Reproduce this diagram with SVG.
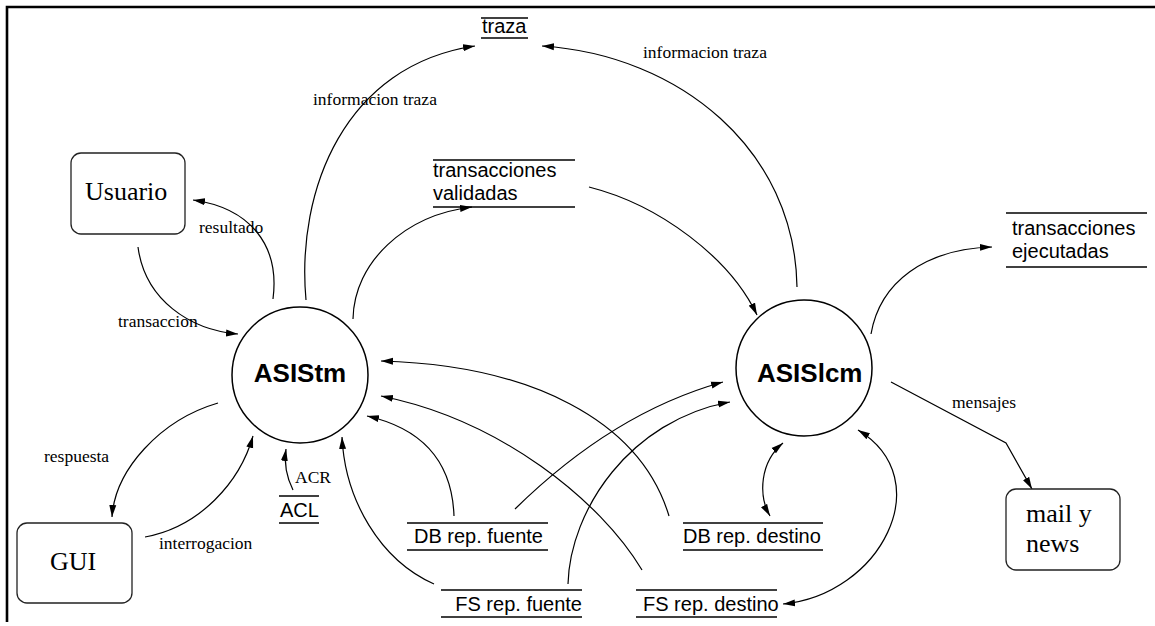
<svg xmlns="http://www.w3.org/2000/svg" width="1155" height="626" viewBox="0 0 1155 626">
  <style>
    .frame { stroke: #000; stroke-width: 2.6; fill: none; }
    .proc { fill: #fff; stroke: #000; stroke-width: 1.5; }
    .ext { fill: #fff; stroke: #222; stroke-width: 1.3; }
    .store { stroke: #000; stroke-width: 1.5; }
    .flow { fill: none; stroke: #000; stroke-width: 1.2; }
    .ptitle { font-family: "Liberation Sans", Arial, sans-serif; font-weight: bold; font-size: 26px; fill: #000; }
    .etitle { font-family: "Liberation Serif", "Times New Roman", serif; font-size: 26px; fill: #000; }
    .stext { font-family: "Liberation Sans", Arial, sans-serif; font-size: 20px; fill: #000; }
    .lbl { font-family: "Liberation Serif", "Times New Roman", serif; font-size: 17.5px; fill: #000; }
  </style>
  <defs>
    <marker id="arrow" markerUnits="userSpaceOnUse" markerWidth="13" markerHeight="8" refX="12" refY="4" orient="auto-start-reverse">
      <path d="M0,0.5 L12,4 L0,7.5 Z" fill="#000"/>
    </marker>
  </defs>

  <rect width="1155" height="626" fill="#fff"/>
  <!-- page frame (top and left edges) -->
  <path class="frame" d="M7,622 L7,7 L1155,7"/>

  <!-- data flows -->
  <g id="connectors">
    <!-- Usuario -> ASIStm : transaccion -->
    <path class="flow" marker-end="url(#arrow)" d="M138,247 C145,300 190,330 238,334"/>
    <!-- ASIStm -> Usuario : resultado -->
    <path class="flow" marker-end="url(#arrow)" d="M273,299 C280,245 250,208 193,200"/>
    <!-- ASIStm -> traza -->
    <path class="flow" marker-end="url(#arrow)" d="M306,300 C296,190 345,65 475,46"/>
    <!-- ASIStm -> transacciones validadas -->
    <path class="flow" marker-end="url(#arrow)" d="M353,319 C354,262 405,215 472,207"/>
    <!-- transacciones validadas -> ASISlcm -->
    <path class="flow" marker-end="url(#arrow)" d="M589,187 C660,205 730,258 757,315"/>
    <!-- ASISlcm -> traza -->
    <path class="flow" marker-end="url(#arrow)" d="M797,287 C795,150 680,55 542,46"/>
    <!-- ASISlcm -> transacciones ejecutadas -->
    <path class="flow" marker-end="url(#arrow)" d="M871,334 C880,282 925,249 992,247"/>
    <!-- ASISlcm -> mail y news : mensajes -->
    <path class="flow" marker-end="url(#arrow)" d="M891,382 L1006,443 L1032,489"/>
    <!-- GUI -> ASIStm : interrogacion -->
    <path class="flow" marker-end="url(#arrow)" d="M145,537 C200,527 240,482 253,436"/>
    <!-- ASIStm -> GUI : respuesta -->
    <path class="flow" marker-end="url(#arrow)" d="M218,403 C160,420 115,470 112,517"/>
    <!-- ACL -> ASIStm : ACR -->
    <path class="flow" marker-end="url(#arrow)" d="M293,490 Q283,470 286,449"/>
    <!-- FS rep. fuente -> ASIStm -->
    <path class="flow" marker-end="url(#arrow)" d="M434,584 C380,560 345,500 342,437"/>
    <!-- DB rep. fuente -> ASIStm -->
    <path class="flow" marker-end="url(#arrow)" d="M454,516 C452,460 420,428 367,416"/>
    <!-- DB rep. destino -> ASIStm -->
    <path class="flow" marker-end="url(#arrow)" d="M669,516 C640,420 530,365 381,361"/>
    <!-- FS rep. destino -> ASIStm -->
    <path class="flow" marker-end="url(#arrow)" d="M642,570 C600,500 500,420 381,396"/>
    <!-- DB rep. fuente -> ASISlcm -->
    <path class="flow" marker-end="url(#arrow)" d="M515,509 C570,455 640,405 723,382"/>
    <!-- FS rep. fuente -> ASISlcm -->
    <path class="flow" marker-end="url(#arrow)" d="M568,584 C570,510 630,420 730,402"/>
    <!-- DB rep. destino <-> ASISlcm -->
    <path class="flow" marker-start="url(#arrow)" marker-end="url(#arrow)" d="M770,516 C758,495 760,462 783,443"/>
    <!-- FS rep. destino <-> ASISlcm -->
    <path class="flow" marker-start="url(#arrow)" marker-end="url(#arrow)" d="M783,604 C880,595 940,480 858,430"/>

    <!-- flow labels -->
    <text class="lbl" x="313" y="105">informacion traza</text>
    <text class="lbl" x="643" y="58">informacion traza</text>
    <text class="lbl" x="199" y="233">resultado</text>
    <text class="lbl" x="118" y="327">transaccion</text>
    <text class="lbl" x="44" y="462">respuesta</text>
    <text class="lbl" x="159" y="549">interrogacion</text>
    <text class="lbl" x="295" y="483">ACR</text>
    <text class="lbl" x="952" y="408">mensajes</text>
  </g>

  <!-- processes -->
  <g id="asistm">
    <circle class="proc" cx="300" cy="375" r="68"/>
    <text class="ptitle" x="300" y="382" text-anchor="middle">ASIStm</text>
  </g>
  <g id="asislcm">
    <circle class="proc" cx="804" cy="368" r="68"/>
    <text class="ptitle" x="757" y="382">ASISlcm</text>
  </g>

  <!-- external entities -->
  <g id="usuario">
    <rect class="ext" x="71" y="153" width="114" height="81" rx="10"/>
    <text class="etitle" x="85" y="200">Usuario</text>
  </g>
  <g id="gui">
    <rect class="ext" x="17" y="523" width="115" height="80" rx="10"/>
    <text class="etitle" x="50" y="570">GUI</text>
  </g>
  <g id="mail">
    <rect class="ext" x="1006" y="489" width="114" height="81" rx="10"/>
    <text class="etitle" x="1026" y="522">mail y</text>
    <text class="etitle" x="1026" y="552">news</text>
  </g>

  <!-- data stores -->
  <g id="traza">
    <line class="store" x1="481" y1="18" x2="528" y2="18"/>
    <line class="store" x1="481" y1="38" x2="528" y2="38"/>
    <text class="stext" x="482" y="33">traza</text>
  </g>
  <g id="validadas">
    <line class="store" x1="433" y1="160" x2="575" y2="160"/>
    <line class="store" x1="433" y1="207" x2="575" y2="207"/>
    <text class="stext" x="433" y="177">transacciones</text>
    <text class="stext" x="433" y="200">validadas</text>
  </g>
  <g id="ejecutadas">
    <line class="store" x1="1006" y1="213" x2="1147" y2="213"/>
    <line class="store" x1="1006" y1="267" x2="1147" y2="267"/>
    <text class="stext" x="1012" y="235">transacciones</text>
    <text class="stext" x="1012" y="258">ejecutadas</text>
  </g>
  <g id="acl">
    <line class="store" x1="279" y1="496" x2="319" y2="496"/>
    <line class="store" x1="279" y1="523" x2="319" y2="523"/>
    <text class="stext" x="280" y="517">ACL</text>
  </g>
  <g id="db-fuente">
    <line class="store" x1="407" y1="523" x2="548" y2="523"/>
    <line class="store" x1="407" y1="550" x2="548" y2="550"/>
    <text class="stext" x="414" y="543">DB rep. fuente</text>
  </g>
  <g id="db-destino">
    <line class="store" x1="683" y1="523" x2="823" y2="523"/>
    <line class="store" x1="683" y1="550" x2="823" y2="550"/>
    <text class="stext" x="683" y="543">DB rep. destino</text>
  </g>
  <g id="fs-fuente">
    <line class="store" x1="441" y1="590" x2="582" y2="590"/>
    <line class="store" x1="441" y1="617" x2="582" y2="617"/>
    <text class="stext" x="582" y="611" text-anchor="end">FS rep. fuente</text>
  </g>
  <g id="fs-destino">
    <line class="store" x1="636" y1="590" x2="777" y2="590"/>
    <line class="store" x1="636" y1="617" x2="777" y2="617"/>
    <text class="stext" x="643" y="611">FS rep. destino</text>
  </g>
</svg>
